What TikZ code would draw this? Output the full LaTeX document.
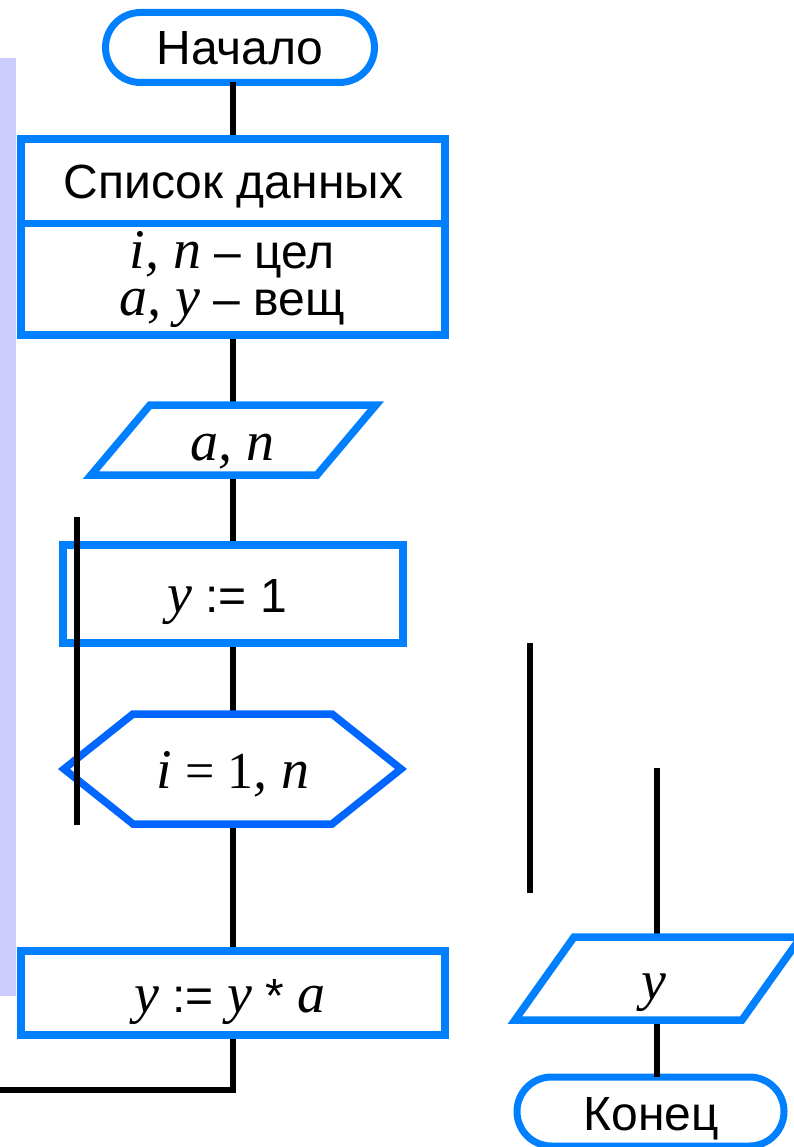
\documentclass[tikz,border=0pt]{standalone}
\usepackage{fontspec}
\setmainfont{Liberation Sans}
\newfontfamily\tnr{Liberation Serif}
\usetikzlibrary{shapes.misc}
\definecolor{fcblue}{RGB}{0,128,255}
\definecolor{fchex}{RGB}{0,102,255}
\definecolor{lav}{RGB}{204,204,255}
\newcommand\arf{\fontsize{48}{47}\selectfont}
\newcommand\tmi{\tnr\itshape\fontsize{56}{47}\selectfont}
\newcommand\tmr{\tnr\upshape\fontsize{52}{60}\selectfont}
\tikzset{
  shp/.style={rectangle, inner sep=0pt, outer sep=0pt},
  term/.style={rounded rectangle, inner sep=0pt, outer sep=0pt, draw=fcblue, line width=7pt},
  outline/.style={draw=fcblue, line width=7.5pt, line join=miter},
  conn/.style={draw=black, line width=6pt},
  txt/.style={anchor=base, inner sep=0pt, outer sep=0pt, font=\arf}
}
\begin{document}
\begin{tikzpicture}[x=1pt,y=-1pt]
\useasboundingbox (0,0) rectangle (793,1147);
\fill[lav] (0,58) rectangle (16,996);

% geometry nodes
\node[term, minimum width=269pt, minimum height=70pt] (start) at (240,47.5) {};
\node[shp, minimum width=424pt, minimum height=84.5pt] (data1) at (233,181.25) {};
\node[shp, minimum width=424pt, minimum height=111.5pt] (data2) at (233,279.25) {};
\node[shp, minimum width=226pt, minimum height=70pt] (io1) at (233.5,440) {};
\node[shp, minimum width=340pt, minimum height=98pt] (set1) at (233,594) {};
\node[shp, minimum width=337pt, minimum height=110pt] (hex) at (232.5,769) {};
\node[shp, minimum width=424pt, minimum height=84pt] (mult) at (233,993) {};
\node[shp, minimum width=227pt, minimum height=83pt] (io2) at (658,978.5) {};
\node[term, minimum width=267pt, minimum height=69pt] (fin) at (650.5,1111.5) {};

\coordinate (loopend) at (-4,1090);
\coordinate (lineAtop) at (77,517);
\coordinate (lineAbot) at (77,825);
\coordinate (lineBtop) at (530,643);
\coordinate (lineBbot) at (530,893);
\coordinate (lineCtop) at (657,768);

% connectors (under the shapes)
\draw[conn] (start.south -| data1.north) -- (data1.north);
\draw[conn] (data2.south) -- (data2.south |- io1.north);
\draw[conn] (io1.south -| data2.south) -- (set1.north);
\draw[conn] (set1.south) -- (set1.south |- hex.north);
\draw[conn] (hex.south -| set1.south) -- (mult.north);
\draw[conn, line join=miter] (mult.south) |- (loopend);
\draw[conn] (lineCtop) -- (lineCtop |- io2.north);
\draw[conn] (io2.south -| lineCtop) -- (lineCtop |- fin.north);

% shapes
\draw[outline] (data1.north west) rectangle (data1.south east);
\draw[outline] (data2.north west) rectangle (data2.south east);
\draw[outline] ([xshift=29.5pt]io1.north west) -- ([xshift=29.5pt]io1.north east)
  -- ([xshift=-29.5pt]io1.south east) -- ([xshift=-29.5pt]io1.south west) -- cycle;
\draw[outline] (set1.north west) rectangle (set1.south east);
\draw[outline, draw=fchex] (hex.west) -- ([xshift=69pt]hex.north west) -- ([xshift=-69pt]hex.north east)
  -- (hex.east) -- ([xshift=-69pt]hex.south east) -- ([xshift=69pt]hex.south west) -- cycle;
\draw[outline] (mult.north west) rectangle (mult.south east);
\draw[outline] ([xshift=29.5pt]io2.north west) -- ([xshift=29.5pt]io2.north east)
  -- ([xshift=-29.5pt]io2.south east) -- ([xshift=-29.5pt]io2.south west) -- cycle;

% free vertical lines
\draw[conn] (lineAtop) -- (lineAbot);
\draw[conn] (lineBtop) -- (lineBbot);

% texts
\node[txt] (tstart) at (240,65) {Начало};
\node[txt] (tdata1) at (233.5,199) {Список данных};
\node[txt, align=center] (tdata2) at (232,315) {{\tmi i, n} – цел\\{\tmi a, y} – вещ};
\node[txt] (tio1) at (232.5,460) {\tmi a, n};
\node[txt] (tset1) at (227,612) {{\tmi y} := 1};
\node[txt, font=\tmr] (thex) at (233,788) {{\tmi i} = 1{\tmi , n}};
\node[txt] (tmult) at (230,1012) {{\tmi y} := {\tmi y} * {\tmi a}};
\node[txt] (tio2) at (654,999) {\tmi y};
\node[txt] (tfin) at (651,1130) {Конец};
\end{tikzpicture}
\end{document}
